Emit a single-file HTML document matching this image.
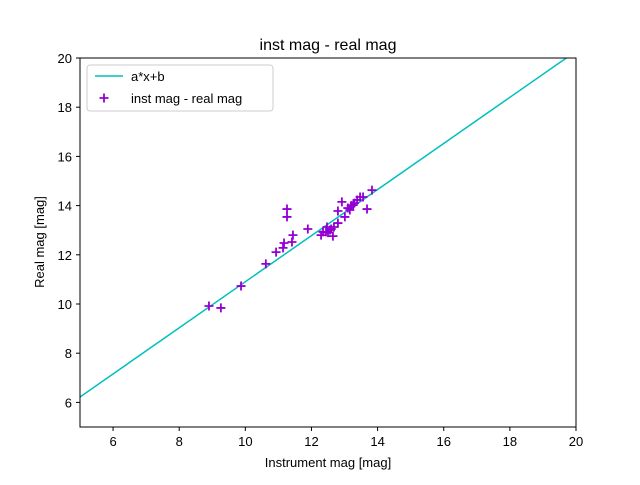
<!DOCTYPE html>
<html><head><meta charset="utf-8"><style>
body{margin:0;background:#fff;}
svg{font-family:"Liberation Sans","DejaVu Sans",sans-serif;}
</style></head><body>
<svg id="chart" width="640" height="480">
<rect width="640" height="480" fill="#fff"/>
<text x="328" y="50" font-size="16" text-anchor="middle">inst mag - real mag</text>
<g id="marks"></g>
<rect x="80" y="58" width="496" height="369" fill="none" stroke="#000" stroke-width="1"/>
<g id="ticks"></g>
<text x="328" y="467" font-size="13" text-anchor="middle">Instrument mag [mag]</text>
<text x="44" y="242" font-size="13" text-anchor="middle" transform="rotate(-90 44 242)">Real mag [mag]</text>
<g>
<rect x="87" y="65" width="186" height="46" rx="3" fill="#fff" fill-opacity="0.8" stroke="#ccc"/>
<line x1="95" y1="76" x2="123" y2="76" stroke="#00bfbf" stroke-width="1.5"/>
<text x="131" y="81" font-size="13">a*x+b</text>
<path d="M104 93.5v9M99.5 98h9" stroke="#9400d3" stroke-width="1.8"/>
<text x="131" y="103" font-size="13">inst mag - real mag</text>
</g>
</svg>
<script>
const xs=[8.90,9.26,9.87,10.62,10.93,11.14,11.17,11.41,11.44,11.26,11.26,11.89,12.29,12.44,12.65,12.47,12.68,12.80,12.80,12.92,13.01,13.16,13.26,13.38,13.47,13.56,13.68,13.83,12.56,12.35,12.5,12.6,13.1,13.2,13.3];
const ys=[9.92,9.84,10.73,11.63,12.11,12.28,12.48,12.52,12.80,13.86,13.54,13.05,12.80,12.93,12.76,13.13,13.13,13.29,13.78,14.15,13.54,13.82,14.02,14.23,14.35,14.35,13.86,14.63,13.01,12.93,12.9,13.05,13.9,14.0,14.1];
const fitA=[0.937];
const fitB=[1.535];
const xTicks=[6,8,10,12,14,16,18,20];
const yTicks=[6,8,10,12,14,16,18,20];
const NS='http://www.w3.org/2000/svg';
const sx=v=>80+(v-5)/15*496, sy=v=>427-(v-5)/15*369;
const marks=document.getElementById('marks'), ticks=document.getElementById('ticks');
function mk(t,a,p){const e=document.createElementNS(NS,t);for(const k in a)e.setAttribute(k,a[k]);p.appendChild(e);return e;}
const cp=mk('clipPath',{id:'cp'},marks);mk('rect',{x:80,y:58,width:496,height:369},cp);
const ln=mk('line',{x1:sx(5),y1:sy(fitA[0]*5+fitB[0]),x2:sx(20),y2:sy(fitA[0]*20+fitB[0]),stroke:'#00bfbf','stroke-width':1.5,'clip-path':'url(#cp)'},marks);


xs.forEach((x,i)=>{const X=sx(x),Y=sy(ys[i]);
const p=mk('path',{d:`M${X} ${Y-4.5}v9M${X-4.5} ${Y}h9`,stroke:'#9400d3','stroke-width':1.8},marks);

});
xTicks.forEach(t=>{const X=sx(t);mk('line',{x1:X,y1:427,x2:X,y2:431,stroke:'#000'},ticks);
const e=mk('text',{x:X,y:446,'font-size':13,'text-anchor':'middle'},ticks);e.textContent=t;

});
yTicks.forEach(t=>{const Y=sy(t);mk('line',{x1:76,y1:Y,x2:80,y2:Y,stroke:'#000'},ticks);
const e=mk('text',{x:72,y:Y+5,'font-size':13,'text-anchor':'end'},ticks);e.textContent=t;

});
</script>
</body></html>
